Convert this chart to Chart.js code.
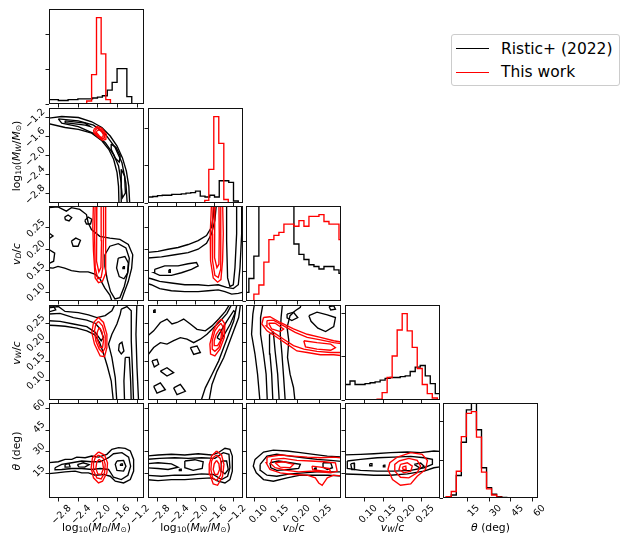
<!DOCTYPE html>
<html>
<head>
<meta charset="utf-8">
<script src="https://cdn.jsdelivr.net/npm/chart.js@4.4.0/dist/chart.umd.min.js"></script>
<style>
  body { margin: 0; width: 623px; height: 536px; position: relative; overflow: hidden; background: #fff; font-family: "DejaVu Sans", sans-serif; }
  canvas { position: absolute; }
  .lab { position: absolute; white-space: nowrap; font-size: 10.8px; line-height: 1; color: #000; }
  .lab sub { font-size: 70%; vertical-align: -0.25em; line-height: 0; }
  #legend { position: absolute; left: 451px; top: 34px; width: 167px; height: 50px; border: 1px solid #ccc; border-radius: 3px; font-size: 15.5px; }
  #legend .ln { position: absolute; left: 4px; width: 33px; height: 0; border-top: 1.4px solid; }
  #legend span { position: absolute; left: 49px; line-height: 18px; }
</style>
</head>
<body>
<div id="legend">
  <div class="ln" style="top:13px;border-color:#000"></div><span style="top:5px">Ristic+ (2022)</span>
  <div class="ln" style="top:37px;border-color:#f00"></div><span style="top:28px">This work</span>
</div>
<script>
// ---- tick values ----
const mdTicks = [-2.8, -2.4, -2.0, -1.6, -1.2];
const mwTicks = [-2.8, -2.4, -2.0, -1.6, -1.2];
const vdTicks = [0.10, 0.15, 0.20, 0.25];
const vwTicks = [0.10, 0.15, 0.20, 0.25];
const thTicks = [15, 30, 45, 60];

// ---- 1D histograms (bin edges + heights, red peak = 100) ----
const mdEdgesBlack = [-3.01, -2.91, -2.81, -2.71, -2.61, -2.51, -2.41, -2.31, -2.21, -2.11, -2.01, -1.91, -1.81, -1.71, -1.61, -1.51, -1.41, -1.31, -1.21, -1.11];
const mdCountsBlack = [5, 5, 4, 4, 5, 5, 6, 6, 6, 7, 8, 9.5, 16, 25, 41, 41, 8.6, 0, 0];
const mdEdgesRed = [-2.23, -2.13, -2.03, -1.935, -1.84, -1.745];
const mdCountsRed = [3.5, 34, 100, 58, 5];

const mwEdgesBlack = [-3.0, -2.9, -2.8, -2.7, -2.6, -2.5, -2.4, -2.3, -2.2, -2.1, -2.0, -1.9, -1.8, -1.7, -1.6, -1.5, -1.4, -1.3, -1.2, -1.1, -1.0];
const mwCountsBlack = [7, 7.5, 8.5, 9, 9, 10, 10, 10.5, 11.5, 12, 13.7, 8, 7, 9, 7, 25.8, 25.8, 23.8, 2.3, 0];
const mwEdgesRed = [-1.805, -1.72, -1.615, -1.51, -1.404, -1.31];
const mwCountsRed = [3, 39, 100, 69, 4];

const vdEdges = [0.074, 0.0857, 0.0974, 0.1091, 0.1208, 0.1325, 0.1442, 0.1559, 0.1676, 0.1793, 0.191, 0.2027, 0.2144, 0.2261, 0.2378, 0.2495, 0.2612, 0.2729, 0.2846, 0.2963, 0.308];
const vdCountsBlack = [10, 26, 52, 115, 125, 128, 130, 127, 122, 118, 66, 54, 48, 42, 40, 37, 40, 40, 36, 32];
const vdCountsRed = [0, 0, 8, 18.5, 45, 71, 76, 79.5, 89, 89, 86.5, 93, 86.5, 98, 98, 100, 92, 89, 89, 71];

const vwEdgesBlack = [0.048, 0.0612, 0.0744, 0.0876, 0.1008, 0.114, 0.1272, 0.1404, 0.1536, 0.1668, 0.18, 0.1932, 0.2064, 0.2196, 0.2328, 0.246, 0.2592, 0.2724, 0.2856, 0.2988];
const vwCountsBlack = [18, 22, 18, 18, 19, 20, 21, 23, 25, 26, 26, 27, 28, 33, 38, 40, 28, 19, 7.4];
const vwEdgesRed = [0.1325, 0.1457, 0.1589, 0.1721, 0.1853, 0.1985, 0.2117, 0.2249, 0.2381, 0.2513, 0.2645, 0.2777, 0.2909];
const vwCountsRed = [1, 8.5, 26, 51, 81, 100, 80, 61, 36.5, 18, 7.4, 2.3];

const thEdges = [0.7, 4.15, 7.6, 11.05, 14.5, 17.95, 21.4, 24.85, 28.3, 31.75, 35.2, 38.65, 42.1, 45.55, 49.0, 52.45, 55.9, 59.35, 62.8];
const thCountsBlack = [1, 3.5, 26, 64.5, 102, 122, 79, 35, 12, 4.3, 1.5, 0.6, 0.3, 0.3, 0.2, 0.2, 0.2, 0.2];
const thCountsRed = [1.6, 7.5, 31, 71, 98, 100, 70.5, 30, 10.6, 3.5, 1, 0.4, 0.3, 0.3, 0.2, 0.2, 0.1, 0.1];

// y tick marks on the diagonal panels (counts)
const mdHistTicks = [0, 40, 80];
const mwHistTicks = [0, 43, 86];
const vdHistTicks = [0, 34.5, 69];
const vwHistTicks = [0, 50, 100];
const thHistTicks = [0, 44, 88];

// ---- 2D contours, [x, y] in data units ----
// M_D vs M_W
const p10BlackA = [[-3.05,-1.22],[-2.74,-1.18],[-2.40,-1.20],[-2.127,-1.29],[-1.92,-1.41],[-1.75,-1.59],[-1.61,-1.80],[-1.50,-2.05],[-1.42,-2.33],[-1.37,-2.65],[-1.35,-3.05],[-1.57,-3.05],[-1.58,-2.65],[-1.61,-2.36],[-1.68,-2.08],[-1.78,-1.87],[-1.92,-1.69],[-2.127,-1.53],[-2.40,-1.45],[-2.67,-1.41],[-3.05,-1.32]];
const p10BlackB = [[-2.81,-1.23],[-2.40,-1.27],[-2.09,-1.36],[-1.85,-1.55],[-1.65,-1.83],[-1.51,-2.15],[-1.43,-2.58],[-1.40,-3.05],[-1.51,-3.05],[-1.525,-2.58],[-1.58,-2.22],[-1.68,-1.98],[-1.85,-1.73],[-2.06,-1.55],[-2.40,-1.39],[-2.74,-1.32]];
const p10BlackC = [[-1.73,-1.76],[-1.63,-1.83],[-1.545,-2.01],[-1.566,-2.14],[-1.65,-2.05],[-1.73,-1.87]];
const p10BlackD = [[-1.525,-2.29],[-1.456,-2.43],[-1.44,-2.79],[-1.50,-2.89],[-1.525,-2.65]];
const p10BlackE = [[-2.67,-1.27],[-2.26,-1.32],[-2.16,-1.39],[-2.26,-1.36],[-2.67,-1.31]];
const p10RedA = [[-2.09,-1.46],[-2.02,-1.39],[-1.92,-1.43],[-1.83,-1.55],[-1.84,-1.66],[-1.91,-1.68],[-2.0,-1.61],[-2.08,-1.53]];
const p10RedB = [[-2.06,-1.47],[-2.0,-1.42],[-1.93,-1.46],[-1.86,-1.55],[-1.87,-1.63],[-1.92,-1.65],[-1.99,-1.59],[-2.05,-1.53]];
const p10RedC = [[-2.03,-1.49],[-1.98,-1.46],[-1.93,-1.49],[-1.89,-1.56],[-1.9,-1.61],[-1.94,-1.62],[-1.98,-1.58],[-2.02,-1.53]];

// M_D vs v_D
const p20BlackA = [[-3.05,0.297],[-2.816,0.299],[-2.645,0.289],[-2.542,0.297],[-2.371,0.293],[-2.235,0.281],[-2.20,0.262],[-2.133,0.246],[-1.962,0.230],[-1.757,0.226],[-1.552,0.223],[-1.38,0.211],[-1.29,0.187],[-1.312,0.156],[-1.38,0.125],[-1.47,0.097],[-1.552,0.07],[-1.689,0.07],[-1.757,0.093],[-1.859,0.109],[-1.962,0.131],[-2.065,0.142],[-2.20,0.147],[-2.371,0.147],[-2.542,0.150],[-2.68,0.156],[-2.816,0.160],[-2.918,0.156],[-3.05,0.157]];
const p20BlackB = [[-1.859,0.187],[-1.757,0.207],[-1.586,0.213],[-1.429,0.203],[-1.36,0.179],[-1.388,0.148],[-1.463,0.113],[-1.552,0.087],[-1.654,0.084],[-1.743,0.101],[-1.81,0.129],[-1.859,0.160]];
const p20BlackC = [[-1.586,0.179],[-1.45,0.183],[-1.38,0.168],[-1.395,0.144],[-1.47,0.131],[-1.566,0.136],[-1.62,0.156]];
const p20BlackD = [[-1.49,0.159],[-1.46,0.159],[-1.46,0.155],[-1.49,0.155]];
const p20BlackE = [[-2.68,0.275],[-2.61,0.28],[-2.536,0.274],[-2.59,0.266],[-2.665,0.269]];
const p20BlackF = [[-2.269,0.267],[-2.20,0.275],[-2.125,0.27],[-2.152,0.259],[-2.235,0.259]];
const p20BlackG = [[-2.542,0.219],[-2.453,0.226],[-2.358,0.221],[-2.406,0.207],[-2.508,0.207]];
const p20BlackH = [[-3.05,0.242],[-2.918,0.231],[-3.05,0.221]];
const p20BlackI = [[-3.05,0.203],[-2.884,0.191],[-2.905,0.172],[-3.05,0.164]];
const p20RedA = [[-2.092,0.31],[-2.105,0.252],[-2.092,0.196],[-2.057,0.133],[-1.989,0.122],[-1.908,0.125],[-1.852,0.141],[-1.838,0.196],[-1.852,0.252],[-1.838,0.31]];
const p20RedB = [[-2.057,0.31],[-2.071,0.236],[-2.057,0.157],[-2.003,0.131],[-1.935,0.134],[-1.90,0.157],[-1.886,0.236],[-1.886,0.31]];
const p20RedC = [[-2.022,0.31],[-2.037,0.236],[-2.022,0.172],[-1.982,0.147],[-1.94,0.157],[-1.927,0.22],[-1.935,0.31]];

// M_W vs v_D
const p21BlackA = [[-3.05,0.192],[-2.789,0.195],[-2.577,0.2],[-2.366,0.204],[-2.155,0.211],[-1.944,0.22],[-1.768,0.232],[-1.662,0.252],[-1.627,0.276],[-1.606,0.31],[-0.95,0.31],[-0.95,0.101],[-1.099,0.097],[-1.239,0.095],[-1.38,0.101],[-1.521,0.105],[-1.732,0.103],[-1.944,0.101],[-2.225,0.101],[-2.507,0.103],[-2.754,0.108],[-2.93,0.117],[-3.05,0.121]];
const p21BlackB = [[-3.05,0.179],[-2.718,0.182],[-2.437,0.187],[-2.155,0.192],[-1.944,0.2],[-1.768,0.214],[-1.662,0.236],[-1.592,0.268],[-1.556,0.31],[-1.028,0.31],[-1.028,0.236],[-1.063,0.157],[-1.099,0.117],[-1.204,0.108],[-1.345,0.111],[-1.521,0.117],[-1.732,0.115],[-1.944,0.117],[-2.225,0.117],[-2.507,0.121],[-2.754,0.125],[-2.93,0.131],[-3.05,0.134]];
const p21BlackC = [[-2.859,0.153],[-2.648,0.161],[-2.366,0.161],[-2.155,0.166],[-1.979,0.169],[-1.944,0.161],[-2.085,0.153],[-2.296,0.145],[-2.507,0.139],[-2.754,0.139],[-2.873,0.145]];
const p21BlackD = [[-1.345,0.31],[-1.345,0.22],[-1.324,0.133],[-1.275,0.113],[-1.204,0.117],[-1.169,0.157],[-1.134,0.236],[-1.134,0.31]];
const p21BlackE = [[-2.56,0.152],[-2.53,0.152],[-2.53,0.146],[-2.56,0.146]];
const p21RedA = [[-1.662,0.31],[-1.69,0.236],[-1.683,0.173],[-1.627,0.133],[-1.535,0.123],[-1.465,0.129],[-1.43,0.173],[-1.415,0.236],[-1.43,0.31]];
const p21RedB = [[-1.627,0.31],[-1.648,0.236],[-1.641,0.173],[-1.592,0.139],[-1.521,0.134],[-1.472,0.153],[-1.465,0.236],[-1.472,0.31]];
const p21RedC = [[-1.592,0.31],[-1.606,0.236],[-1.592,0.18],[-1.549,0.157],[-1.507,0.165],[-1.5,0.236],[-1.507,0.31]];

// M_D vs v_W
const p30BlackA = [[-3.05,0.29],[-2.809,0.294],[-2.672,0.281],[-2.399,0.278],[-2.194,0.272],[-2.023,0.265],[-1.852,0.27],[-1.716,0.283],[-1.613,0.31],[-1.203,0.31],[-1.224,0.221],[-1.203,0.133],[-1.169,0.04],[-1.682,0.04],[-1.729,0.098],[-1.811,0.138],[-1.893,0.173],[-1.968,0.2],[-2.071,0.22],[-2.228,0.23],[-2.433,0.237],[-2.672,0.242],[-2.877,0.244],[-3.05,0.245]];
const p30BlackB = [[-3.05,0.274],[-2.775,0.276],[-2.501,0.265],[-2.228,0.258],[-2.057,0.25],[-1.955,0.235],[-1.887,0.213],[-1.934,0.204],[-2.057,0.226],[-2.228,0.241],[-2.501,0.248],[-2.775,0.255],[-3.05,0.257]];
const p30BlackC = [[-1.524,0.287],[-1.408,0.294],[-1.32,0.283],[-1.32,0.204],[-1.292,0.116],[-1.272,0.04],[-1.613,0.04],[-1.647,0.107],[-1.716,0.16],[-1.784,0.195],[-1.716,0.221],[-1.613,0.248],[-1.545,0.274]];
const p30BlackD = [[-1.565,0.195],[-1.51,0.2],[-1.47,0.177],[-1.524,0.169],[-1.579,0.179]];
const p30BlackE = [[-1.443,0.16],[-1.36,0.16],[-1.333,0.098],[-1.32,0.04],[-1.456,0.04],[-1.47,0.098]];
const p30BlackF = [[-3.05,0.294],[-2.911,0.296],[-2.863,0.285],[-3.05,0.278]];
const p30RedA = [[-1.989,0.265],[-1.887,0.252],[-1.818,0.221],[-1.818,0.186],[-1.866,0.162],[-1.955,0.164],[-2.071,0.195],[-2.126,0.226],[-2.091,0.252]];
const p30RedB = [[-1.989,0.255],[-1.907,0.243],[-1.852,0.217],[-1.852,0.186],[-1.907,0.173],[-1.975,0.182],[-2.044,0.204],[-2.071,0.23],[-2.044,0.248]];
const p30RedC = [[-1.975,0.239],[-1.921,0.228],[-1.887,0.204],[-1.907,0.186],[-1.955,0.186],[-2.003,0.204],[-2.016,0.226]];

// M_W vs v_W
const p31BlackA = [[-3.05,0.212],[-2.881,0.23],[-2.74,0.252],[-2.6,0.261],[-2.495,0.248],[-2.389,0.252],[-2.249,0.261],[-2.109,0.248],[-1.968,0.234],[-1.793,0.23],[-1.653,0.243],[-1.512,0.261],[-1.372,0.281],[-1.232,0.31],[-1.042,0.31],[-1.091,0.265],[-1.196,0.23],[-1.302,0.195],[-1.407,0.159],[-1.547,0.124],[-1.653,0.089],[-1.723,0.04],[-3.05,0.04]];
const p31BlackB = [[-3.05,0.159],[-2.881,0.186],[-2.74,0.199],[-2.6,0.195],[-2.46,0.204],[-2.319,0.212],[-2.179,0.208],[-2.039,0.199],[-1.898,0.208],[-1.758,0.221],[-1.618,0.239],[-1.477,0.256],[-1.337,0.276],[-1.196,0.31],[-1.112,0.31],[-1.196,0.256],[-1.302,0.221],[-1.407,0.186],[-1.512,0.151],[-1.653,0.115],[-1.793,0.08],[-1.898,0.04],[-3.05,0.04]];
const p31BlackC = [[-2.916,0.151],[-2.811,0.155],[-2.775,0.142],[-2.867,0.135]];
const p31BlackD = [[-2.74,0.124],[-2.6,0.133],[-2.46,0.12],[-2.6,0.111]];
const p31BlackE = [[-2.46,0.08],[-2.319,0.089],[-2.214,0.071],[-2.389,0.062]];
const p31BlackF = [[-2.109,0.186],[-1.968,0.19],[-1.898,0.173],[-2.039,0.168]];
const p31BlackG = [[-1.547,0.212],[-1.337,0.256],[-1.196,0.283],[-1.161,0.279],[-1.267,0.248],[-1.463,0.205]];
const p31BlackH = [[-2.881,0.084],[-2.74,0.093],[-2.635,0.075],[-2.811,0.066]];
const p31BlackI = [[-2.88,0.285],[-2.85,0.285],[-2.85,0.279],[-2.88,0.279]];
const p31RedA = [[-1.451,0.261],[-1.38,0.248],[-1.394,0.213],[-1.486,0.182],[-1.592,0.164],[-1.683,0.169],[-1.697,0.195],[-1.627,0.23],[-1.535,0.252]];
const p31RedB = [[-1.465,0.25],[-1.415,0.239],[-1.437,0.213],[-1.507,0.186],[-1.592,0.176],[-1.648,0.182],[-1.648,0.204],[-1.592,0.23],[-1.521,0.243]];
const p31RedC = [[-1.486,0.235],[-1.451,0.226],[-1.472,0.204],[-1.535,0.191],[-1.592,0.191],[-1.606,0.204],[-1.563,0.221]];

// v_D vs v_W
const p32BlackA = [[0.1,0.31],[0.095,0.274],[0.092,0.221],[0.1,0.169],[0.106,0.116],[0.112,0.04],[0.194,0.04],[0.19,0.081],[0.182,0.116],[0.176,0.16],[0.179,0.204],[0.175,0.239],[0.182,0.27],[0.194,0.283],[0.206,0.292],[0.21,0.31]];
const p32BlackB = [[0.12,0.31],[0.113,0.265],[0.113,0.221],[0.12,0.169],[0.126,0.116],[0.129,0.04],[0.171,0.04],[0.167,0.107],[0.163,0.169],[0.159,0.221],[0.161,0.265],[0.165,0.31]];
const p32BlackC = [[0.134,0.221],[0.143,0.226],[0.147,0.177],[0.153,0.116],[0.157,0.04],[0.142,0.04],[0.139,0.116],[0.135,0.169]];
const p32BlackD = [[0.226,0.27],[0.245,0.279],[0.269,0.272],[0.288,0.265],[0.284,0.241],[0.265,0.228],[0.247,0.237],[0.231,0.255]];
const p32BlackE = [[0.175,0.274],[0.19,0.279],[0.2,0.265],[0.186,0.257],[0.175,0.264]];
const p32BlackF = [[0.273,0.294],[0.284,0.296],[0.288,0.287],[0.277,0.285]];
const p32RedA = [[0.12,0.265],[0.135,0.267],[0.159,0.252],[0.19,0.235],[0.222,0.221],[0.253,0.213],[0.284,0.204],[0.31,0.199],[0.31,0.164],[0.284,0.167],[0.253,0.167],[0.222,0.173],[0.198,0.177],[0.175,0.195],[0.151,0.213],[0.128,0.23],[0.116,0.248]];
const p32RedB = [[0.128,0.257],[0.143,0.258],[0.167,0.243],[0.194,0.226],[0.222,0.213],[0.253,0.206],[0.284,0.199],[0.31,0.195],[0.31,0.173],[0.277,0.173],[0.245,0.176],[0.214,0.182],[0.19,0.191],[0.167,0.208],[0.143,0.226],[0.126,0.243]];
const p32RedC = [[0.132,0.25],[0.147,0.25],[0.167,0.235],[0.159,0.228],[0.139,0.235]];
const p32RedD = [[0.214,0.204],[0.245,0.199],[0.277,0.195],[0.288,0.186],[0.277,0.179],[0.245,0.182],[0.218,0.188]];

// M_D vs theta
const p40BlackA = [[-3.05,22.6],[-2.809,23.3],[-2.672,24.9],[-2.535,24.9],[-2.433,26.5],[-2.262,26.06],[-2.126,27.2],[-1.989,26.5],[-1.818,28.4],[-1.716,31.8],[-1.579,32.95],[-1.443,32.5],[-1.34,30.65],[-1.272,24.9],[-1.272,16.9],[-1.34,11.1],[-1.477,8.8],[-1.647,10.0],[-1.75,13.4],[-1.887,14.6],[-2.057,14.1],[-2.194,15.7],[-2.331,15.7],[-2.467,16.9],[-2.672,16.4],[-2.843,15.7],[-3.05,15.0]];
const p40BlackB = [[-2.877,19.2],[-2.74,21.5],[-2.535,22.6],[-2.331,23.8],[-2.126,23.3],[-1.955,23.3],[-1.784,26.06],[-1.682,28.8],[-1.511,29.5],[-1.374,26.5],[-1.333,20.3],[-1.388,14.1],[-1.524,11.1],[-1.682,12.7],[-1.784,18.0],[-1.955,18.7],[-2.126,18.0],[-2.331,18.7],[-2.535,18.7],[-2.74,18.0],[-2.877,17.8]];
const p40BlackC = [[-1.613,23.8],[-1.477,24.2],[-1.429,20.3],[-1.477,16.9],[-1.613,17.4],[-1.647,21.5]];
const p40BlackD = [[-2.42,21.3],[-2.30,22.6],[-2.18,21.3],[-2.27,19.6],[-2.39,19.8]];
const p40BlackE = [[-2.672,21.5],[-2.59,22.0],[-2.57,19.8],[-2.66,19.6]];
const p40BlackF = [[-1.54,21.8],[-1.50,21.8],[-1.50,20.8],[-1.54,20.8]];
const p40RedA = [[-1.989,30.0],[-1.866,27.9],[-1.805,22.6],[-1.818,15.7],[-1.907,10.0],[-1.989,8.8],[-2.091,12.3],[-2.139,19.2],[-2.112,26.06]];
const p40RedB = [[-1.989,27.9],[-1.887,25.6],[-1.852,21.5],[-1.866,15.7],[-1.934,11.6],[-2.023,12.3],[-2.085,16.9],[-2.091,22.6],[-2.057,26.06]];
const p40RedC = [[-1.975,24.9],[-1.907,23.1],[-1.887,18.7],[-1.934,14.6],[-2.003,15.0],[-2.044,18.7],[-2.023,23.3]];

// M_W vs theta
const p41BlackA = [[-3.05,27.2],[-2.789,27.9],[-2.507,28.4],[-2.225,27.9],[-1.944,28.8],[-1.662,27.9],[-1.521,29.5],[-1.38,32.5],[-1.275,31.8],[-1.225,27.2],[-1.225,16.9],[-1.275,11.1],[-1.38,8.8],[-1.521,10.0],[-1.662,12.3],[-1.944,11.8],[-2.225,11.1],[-2.507,11.1],[-2.789,10.4],[-3.05,11.1]];
const p41BlackB = [[-3.05,24.9],[-2.754,25.6],[-2.437,26.06],[-2.155,25.6],[-1.873,26.06],[-1.592,25.6],[-1.415,29.5],[-1.296,28.4],[-1.275,19.2],[-1.324,13.4],[-1.451,11.1],[-1.627,14.6],[-1.873,15.0],[-2.155,14.1],[-2.437,14.1],[-2.718,13.4],[-3.05,14.1]];
const p41BlackC = [[-3.05,21.9],[-2.789,22.6],[-2.507,21.9],[-2.366,19.6],[-2.577,18.0],[-2.789,18.7],[-3.05,19.2]];
const p41BlackD = [[-2.225,23.8],[-2.014,24.7],[-1.838,23.3],[-1.859,18.7],[-2.049,17.4],[-2.225,19.2]];
const p41BlackE = [[-1.451,23.8],[-1.345,23.8],[-1.31,18.0],[-1.38,15.0],[-1.465,16.9]];
const p41BlackF = [[-2.34,18.3],[-2.30,18.3],[-2.30,17.3],[-2.34,17.3]];
const p41RedA = [[-1.556,30.65],[-1.451,27.9],[-1.401,21.5],[-1.43,13.4],[-1.535,7.2],[-1.627,8.1],[-1.697,14.6],[-1.711,21.5],[-1.662,27.2]];
const p41RedB = [[-1.556,27.9],[-1.479,25.6],[-1.451,20.3],[-1.472,14.1],[-1.556,10.4],[-1.641,12.3],[-1.676,18.0],[-1.662,23.8],[-1.613,26.5]];
const p41RedC = [[-1.556,24.2],[-1.507,21.9],[-1.493,18.0],[-1.535,14.6],[-1.592,14.6],[-1.627,18.0],[-1.606,21.9]];

// v_D vs theta
const p42BlackA = [[0.1,24.9],[0.12,29.96],[0.143,31.3],[0.175,30.65],[0.206,29.5],[0.237,28.4],[0.269,27.2],[0.31,26.5],[0.31,13.4],[0.269,14.1],[0.237,14.1],[0.206,14.1],[0.175,12.3],[0.143,10.0],[0.12,11.1],[0.103,15.7],[0.096,20.3]];
const p42BlackB = [[0.112,21.5],[0.128,27.2],[0.151,28.4],[0.182,27.2],[0.214,26.06],[0.245,24.9],[0.277,24.2],[0.31,23.3],[0.31,16.4],[0.277,16.4],[0.245,16.4],[0.214,15.7],[0.182,15.0],[0.151,13.4],[0.128,14.1],[0.113,17.4]];
const p42BlackC = [[0.135,22.6],[0.155,23.8],[0.182,22.6],[0.206,21.5],[0.202,18.7],[0.179,18.0],[0.151,17.4],[0.137,19.2]];
const p42BlackD = [[0.259,22.6],[0.277,22.6],[0.281,19.2],[0.269,18.0],[0.259,19.6]];
const p42BlackE = [[0.239,19.0],[0.243,19.0],[0.243,18.0],[0.239,18.0]];
const p42RedA = [[0.128,26.5],[0.159,27.9],[0.19,27.2],[0.222,26.5],[0.253,26.06],[0.284,26.5],[0.31,25.6],[0.31,13.4],[0.284,14.1],[0.269,12.3],[0.257,7.2],[0.249,8.8],[0.241,12.3],[0.222,14.1],[0.19,14.6],[0.159,15.7],[0.135,18.0],[0.126,22.6]];
const p42RedB = [[0.139,24.9],[0.167,25.6],[0.198,24.2],[0.23,23.8],[0.261,23.3],[0.288,22.6],[0.292,16.9],[0.277,15.7],[0.253,16.4],[0.23,16.9],[0.202,16.4],[0.175,17.4],[0.147,19.2],[0.137,21.9]];
const p42RedC = [[0.147,22.6],[0.167,23.3],[0.19,21.5],[0.182,19.2],[0.159,19.6]];
const p42RedD = [[0.233,20.3],[0.253,19.6],[0.273,18.7],[0.277,16.4],[0.257,17.0],[0.235,17.8]];

// v_W vs theta
const p43BlackA = [[0.04,27.9],[0.089,28.4],[0.124,28.8],[0.168,29.5],[0.212,29.96],[0.247,29.5],[0.282,30.65],[0.31,30.2],[0.31,20.3],[0.282,19.2],[0.256,16.9],[0.212,15.0],[0.168,14.1],[0.124,14.1],[0.089,14.6],[0.04,15.0]];
const p43BlackB = [[0.054,23.8],[0.089,24.9],[0.133,26.06],[0.177,26.5],[0.221,27.0],[0.256,26.06],[0.278,24.9],[0.278,21.5],[0.256,19.2],[0.221,17.4],[0.177,16.9],[0.133,16.9],[0.089,17.4],[0.054,18.7]];
const p43BlackC = [[0.063,21.9],[0.072,22.4],[0.073,18.0],[0.066,18.0]];
const p43BlackD = [[0.113,22.0],[0.119,22.0],[0.119,20.6],[0.113,20.6]];
const p43BlackE = [[0.23,21.5],[0.247,22.4],[0.256,20.3],[0.247,18.7]];
const p43BlackF = [[0.149,21.0],[0.153,21.0],[0.153,19.8],[0.149,19.8]];
const p43RedA = [[0.186,26.5],[0.221,29.5],[0.251,28.4],[0.265,24.2],[0.26,18.0],[0.238,13.4],[0.221,8.1],[0.194,7.2],[0.173,11.1],[0.161,18.0],[0.166,22.6]];
const p43RedB = [[0.19,23.8],[0.216,25.6],[0.238,24.2],[0.247,20.3],[0.238,15.7],[0.216,12.3],[0.194,12.7],[0.179,16.9],[0.179,21.5]];
const p43RedC = [[0.194,21.5],[0.212,22.6],[0.225,20.3],[0.221,16.9],[0.203,15.7],[0.19,18.0]];
const p43RedD = [[0.199,19.6],[0.208,20.3],[0.209,18.0],[0.201,18.0]];

// ---- layout ----
const COL_LEFT = [49, 148, 246, 345, 443];
const ROW_TOP = [9, 108, 206, 305, 403];
const SIZE = 95;
const ML = 46, MR = 6, MT = 6, MB = 42;
const BLACK = '#000000', RED = '#ff0000';

const VARS = ['md', 'mw', 'vd', 'vw', 'th'];
const RANGE = { md: [-3.0, -1.06], mw: [-3.0, -1.0], vd: [0.079, 0.301], vw: [0.048, 0.298], th: [-1.5, 63.5] };
const TICKS = { md: mdTicks, mw: mwTicks, vd: vdTicks, vw: vwTicks, th: thTicks };
const DIGITS = { md: 1, mw: 1, vd: 2, vw: 2, th: 0 };
const LABELS = {
  md: 'log<sub>10</sub>(<i>M</i><sub><i>D</i></sub>/<i>M</i><sub>\u2299</sub>)',
  mw: 'log<sub>10</sub>(<i>M</i><sub><i>W</i></sub>/<i>M</i><sub>\u2299</sub>)',
  vd: '<i>v</i><sub><i>D</i></sub>/<i>c</i>',
  vw: '<i>v</i><sub><i>W</i></sub>/<i>c</i>',
  th: '<i>\u03b8</i> (deg)'
};

function fmt(v, key) {
  return v.toFixed(DIGITS[key]).replace('-', '\u2212');
}

function contour(pts, color) {
  return { data: pts.concat([pts[0]]), borderColor: color, borderWidth: 1.35, showLine: true,
           pointRadius: 0, fill: false, tension: 0 };
}

function steps(edges, counts, color) {
  const pts = [[edges[0], 0]];
  counts.forEach((c, i) => { pts.push([edges[i], c]); pts.push([edges[i + 1], c]); });
  pts.push([edges[edges.length - 1], 0]);
  return { data: pts, borderColor: color, borderWidth: 1.35, showLine: true, pointRadius: 0, fill: false, tension: 0 };
}

const framePlugin = {
  id: 'frame',
  afterDatasetsDraw(chart) {
    const { ctx, chartArea: a } = chart;
    ctx.save();
    ctx.strokeStyle = '#111';
    ctx.lineWidth = 1;
    ctx.strokeRect(a.left + 0.5, a.top + 0.5, a.width - 1, a.height - 1);
    ctx.restore();
  }
};

const gridOpts = { display: true, drawOnChartArea: false, drawTicks: true, tickLength: 3.5, color: '#000', lineWidth: 0.9 };
const tickFont = { family: 'DejaVu Sans', size: 9.6 };

function fitBox(prop, v) {
  return s => { s[prop] = v; s.paddingLeft = 0; s.paddingRight = 0; s.paddingTop = 0; s.paddingBottom = 0; };
}
function fixTicks(vals) {
  return s => { s.ticks = vals.map(v => ({ value: v })); };
}

function panel(r, c, datasets, yRange, yTicks, yKey) {
  const cv = document.createElement('canvas');
  cv.width = ML + SIZE + MR;
  cv.height = MT + SIZE + MB;
  cv.style.left = (COL_LEFT[c] - ML) + 'px';
  cv.style.top = (ROW_TOP[r] - MT) + 'px';
  document.body.appendChild(cv);
  const xKey = VARS[c];
  new Chart(cv, {
    type: 'scatter',
    data: { datasets },
    options: {
      responsive: false, animation: false, events: [],
      layout: { padding: { left: 0, top: MT, right: MR, bottom: 0 } },
      plugins: { legend: { display: false }, tooltip: { enabled: false } },
      scales: {
        x: {
          type: 'linear', position: 'bottom', min: RANGE[xKey][0], max: RANGE[xKey][1],
          afterBuildTicks: fixTicks(TICKS[xKey]), afterFit: fitBox('height', MB),
          grid: gridOpts, border: { display: false },
          ticks: { display: r === 4, autoSkip: false, minRotation: 45, maxRotation: 45, padding: 1,
                   labelOffset: 11, color: '#000', font: tickFont, callback: v => fmt(v, xKey) }
        },
        y: {
          type: 'linear', position: 'left', min: yRange[0], max: yRange[1],
          afterBuildTicks: fixTicks(yTicks), afterFit: fitBox('width', ML),
          grid: gridOpts, border: { display: false },
          ticks: { display: c === 0 && r > 0, autoSkip: false, minRotation: 45, maxRotation: 45, padding: 2,
                   labelOffset: -7, color: '#000', font: tickFont, callback: v => (yKey ? fmt(v, yKey) : '') }
        }
      }
    },
    plugins: [framePlugin]
  });
}

// ---- diagonal histograms ----
const HIST_MAX = 110;
panel(0, 0, [steps(mdEdgesRed, mdCountsRed, RED), steps(mdEdgesBlack, mdCountsBlack, BLACK)], [0, HIST_MAX], mdHistTicks, null);
panel(1, 1, [steps(mwEdgesRed, mwCountsRed, RED), steps(mwEdgesBlack, mwCountsBlack, BLACK)], [0, HIST_MAX], mwHistTicks, null);
panel(2, 2, [steps(vdEdges, vdCountsRed, RED), steps(vdEdges, vdCountsBlack, BLACK)], [0, HIST_MAX], vdHistTicks, null);
panel(3, 3, [steps(vwEdgesRed, vwCountsRed, RED), steps(vwEdgesBlack, vwCountsBlack, BLACK)], [0, HIST_MAX], vwHistTicks, null);
panel(4, 4, [steps(thEdges, thCountsRed, RED), steps(thEdges, thCountsBlack, BLACK)], [0, HIST_MAX], thHistTicks, null);

// ---- off-diagonal contour panels ----
const pairs = [
  [1, 0, [p10RedA, p10RedB, p10RedC], [p10BlackA, p10BlackB, p10BlackC, p10BlackD, p10BlackE]],
  [2, 0, [p20RedA, p20RedB, p20RedC], [p20BlackA, p20BlackB, p20BlackC, p20BlackD, p20BlackE, p20BlackF, p20BlackG, p20BlackH, p20BlackI]],
  [2, 1, [p21RedA, p21RedB, p21RedC], [p21BlackA, p21BlackB, p21BlackC, p21BlackD, p21BlackE]],
  [3, 0, [p30RedA, p30RedB, p30RedC], [p30BlackA, p30BlackB, p30BlackC, p30BlackD, p30BlackE, p30BlackF]],
  [3, 1, [p31RedA, p31RedB, p31RedC], [p31BlackA, p31BlackB, p31BlackC, p31BlackD, p31BlackE, p31BlackF, p31BlackG, p31BlackH, p31BlackI]],
  [3, 2, [p32RedA, p32RedB, p32RedC, p32RedD], [p32BlackA, p32BlackB, p32BlackC, p32BlackD, p32BlackE, p32BlackF]],
  [4, 0, [p40RedA, p40RedB, p40RedC], [p40BlackA, p40BlackB, p40BlackC, p40BlackD, p40BlackE, p40BlackF]],
  [4, 1, [p41RedA, p41RedB, p41RedC], [p41BlackA, p41BlackB, p41BlackC, p41BlackD, p41BlackE, p41BlackF]],
  [4, 2, [p42RedA, p42RedB, p42RedC, p42RedD], [p42BlackA, p42BlackB, p42BlackC, p42BlackD, p42BlackE]],
  [4, 3, [p43RedA, p43RedB, p43RedC, p43RedD], [p43BlackA, p43BlackB, p43BlackC, p43BlackD, p43BlackE, p43BlackF]]
];
pairs.forEach(([r, c, reds, blacks]) => {
  const yKey = VARS[r];
  const ds = reds.map(p => contour(p, RED)).concat(blacks.map(p => contour(p, BLACK)));
  panel(r, c, ds, RANGE[yKey], TICKS[yKey], yKey);
});

// ---- axis titles ----
function addLabel(html, cx, cy, rotate) {
  const d = document.createElement('div');
  d.className = 'lab';
  d.innerHTML = html;
  d.style.left = cx + 'px';
  d.style.top = cy + 'px';
  d.style.transform = 'translate(-50%,-50%)' + (rotate ? ' rotate(-90deg)' : '');
  document.body.appendChild(d);
}
VARS.forEach((k, i) => addLabel(LABELS[k], COL_LEFT[i] + SIZE / 2, 528, false));
VARS.slice(1).forEach((k, i) => addLabel(LABELS[k], 17, ROW_TOP[i + 1] + SIZE / 2, true));
</script>
</body>
</html>
